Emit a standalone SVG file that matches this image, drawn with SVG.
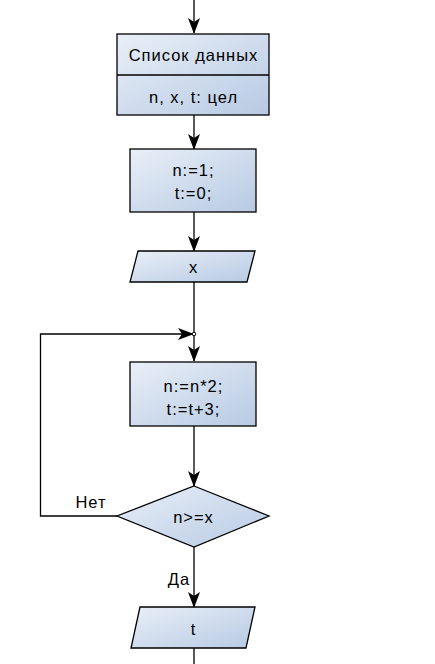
<svg xmlns="http://www.w3.org/2000/svg" width="435" height="664" viewBox="0 0 435 664">
<defs>
<linearGradient id="g" x1="0" y1="0" x2="1" y2="1">
<stop offset="0" stop-color="#e9eff8"/>
<stop offset="1" stop-color="#b7cae3"/>
</linearGradient>
<marker id="arr" viewBox="0 0 16 12" refX="15" refY="6" markerWidth="16" markerHeight="12" markerUnits="userSpaceOnUse" orient="auto">
<path d="M0,0 L16,6 L0,12 L4,6 Z" fill="#000"/>
</marker>
</defs>
<style>
.shape{fill:url(#g);stroke:#000;stroke-width:1.3}
.t{font-family:"Liberation Sans",Arial,sans-serif;font-size:16.5px;letter-spacing:1px;fill:#000;text-anchor:middle}
.c{fill:none;stroke:#000;stroke-width:1.3}
</style>
<rect width="435" height="664" fill="#fff"/>
<g id="connectors">
<path class="c" d="M194,0 L194,33" marker-end="url(#arr)"/>
<path class="c" d="M194,115 L194,149" marker-end="url(#arr)"/>
<path class="c" d="M194,212 L194,251" marker-end="url(#arr)"/>
<path class="c" d="M194,282 L194,334 L194,361" marker-end="url(#arr)"/>
<path class="c" d="M117,516 L40.5,516 L40.5,334 L193,334" marker-end="url(#arr)"/>
<circle cx="194" cy="334" r="1.8" fill="#fff" stroke="#000" stroke-width="1"/>
<path class="c" d="M194,426 L194,486" marker-end="url(#arr)"/>
<path class="c" d="M194,547 L194,607" marker-end="url(#arr)"/>
<path class="c" d="M194,648 L194,664"/>
<text class="t" x="91" y="508">Нет</text>
<text class="t" x="179" y="585">Да</text>
</g>
<g id="data">
<rect class="shape" x="117" y="34" width="152" height="81"/>
<line class="c" x1="117" y1="75" x2="269" y2="75"/>
<text class="t" x="193.5" y="61">Список данных</text>
<text class="t" x="193.5" y="103">n, x, t: цел</text>
</g>
<g id="init">
<rect class="shape" x="130" y="149" width="126" height="63"/>
<text class="t" x="193.5" y="176">n:=1;</text>
<text class="t" x="193.5" y="199">t:=0;</text>
</g>
<g id="inputx">
<path class="shape" d="M138,251 L255,251 L247,282 L130,282 Z"/>
<text class="t" x="193.5" y="273">x</text>
</g>
<g id="step">
<rect class="shape" x="130" y="362" width="126" height="64"/>
<text class="t" x="193.5" y="392">n:=n*2;</text>
<text class="t" x="193.5" y="415">t:=t+3;</text>
</g>
<g id="cond">
<path class="shape" d="M194,486 L269,516 L194,547 L117,516 Z"/>
<text class="t" x="193.5" y="523">n&gt;=x</text>
</g>
<g id="outt">
<path class="shape" d="M140,607 L255,607 L246,648 L131,648 Z"/>
<text class="t" x="193.5" y="635">t</text>
</g>
</svg>
